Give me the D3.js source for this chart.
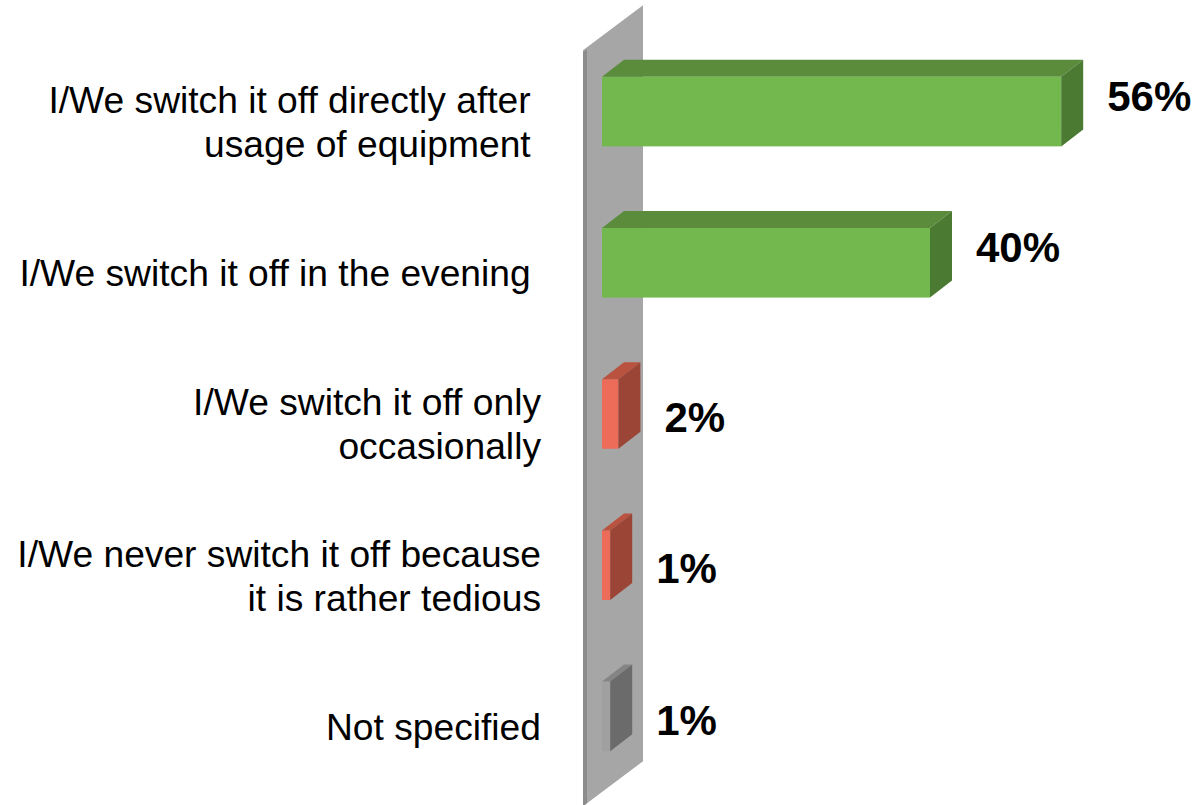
<!DOCTYPE html>
<html>
<head>
<meta charset="utf-8">
<script src="https://cdn.jsdelivr.net/npm/d3@7"></script>
<style>
  html, body { margin: 0; padding: 0; background: #fff; }
  svg { display: block; }
  .cat { font-family: Arial, "Liberation Sans", sans-serif; font-size: 37.2px; fill: #000; white-space: pre; }
  .val { font-family: Arial, "Liberation Sans", sans-serif; font-size: 42px; font-weight: bold; fill: #000; }
</style>
</head>
<body>
<svg id="chart" width="1198" height="805"></svg>
<script>
// answers (trailing spaces are in the original labels)
const categories = [
  'I/We switch it off directly after \nusage of equipment ',
  'I/We switch it off in the evening ',
  'I/We switch it off only\noccasionally',
  'I/We never switch it off because\nit is rather tedious',
  'Not specified'
];
const values = [56, 40, 2, 1, 1];
const groups = ['good', 'good', 'bad', 'bad', 'none'];

const palette = {
  good: { front: '#72b84f', top: '#5a8c3c', side: '#4b7a32' },
  bad: { front: '#ec6c59', top: '#b9523f', side: '#9a4535' },
  none: { front: '#a0a0a0', top: '#858585', side: '#6b6b6b' }
};

const width = 1198, height = 805;
const depth = { dx: 22, dy: -17 };     // bar depth
const wallDepth = 60, wallSlope = 0.75; // side wall perspective
const barInset = 19;                    // bars sit this far into the wall depth

const svg = d3.select('#chart');

const x = d3.scaleLinear().domain([0, 60]).range([602, 602 + 492]);

const y = d3.scaleBand()
  .domain(categories)
  .range([36, 792])
  .paddingInner(0.54)
  .paddingOuter(0.27);

// side wall
const wx0 = x(0) - barInset;
const wy0 = y.range()[0] + barInset * wallSlope;
const wy1 = y.range()[1] + barInset * wallSlope;
const back = wallDepth * wallSlope;
svg.append('polygon')
  .attr('points', [
    [wx0, wy0], [wx0 + wallDepth, wy0 - back],
    [wx0 + wallDepth, wy1 - back], [wx0, wy1]
  ].join(' '))
  .attr('fill', '#a6a6a6');
svg.append('polygon')
  .attr('points', [
    [wx0, wy0 + 2], [wx0 + 4, wy0 - 1],
    [wx0 + 4, wy1 - 3], [wx0, wy1]
  ].join(' '))
  .attr('fill', '#8c8c8c');

const data = categories.map((c, i) => ({ label: c, value: values[i], group: groups[i] }));

const bars = svg.selectAll('g.bar')
  .data(data)
  .enter()
  .append('g')
  .attr('class', 'bar');

bars.append('rect')
  .attr('x', x(0))
  .attr('y', d => y(d.label))
  .attr('width', d => x(d.value) - x(0))
  .attr('height', y.bandwidth())
  .attr('fill', d => palette[d.group].front);

bars.append('polygon')
  .attr('points', d => {
    const x0 = x(0), x1 = x(d.value), y0 = y(d.label);
    return [[x0, y0], [x0 + depth.dx, y0 + depth.dy], [x1 + depth.dx, y0 + depth.dy], [x1, y0]].join(' ');
  })
  .attr('fill', d => palette[d.group].top);

bars.append('polygon')
  .attr('points', d => {
    const x1 = x(d.value), y0 = y(d.label), h = y.bandwidth();
    return [[x1, y0], [x1 + depth.dx, y0 + depth.dy], [x1 + depth.dx, y0 + h + depth.dy], [x1, y0 + h]].join(' ');
  })
  .attr('fill', d => palette[d.group].side);

// value labels
bars.append('text')
  .attr('class', 'val')
  .attr('x', d => x(d.value) + depth.dx + 24)
  .attr('y', d => y(d.label) + y.bandwidth() / 2 + (d.value > 10 ? -16 : 3))
  .attr('dy', '0.36em')
  .text(d => d.value + '%');

// category labels
const lineH = 44;
const labelX = wx0 - 42;
svg.selectAll('text.cat')
  .data(data)
  .enter()
  .append('text')
  .attr('class', 'cat')
  .attr('text-anchor', 'end')
  .each(function (d) {
    const lines = d.label.split('\n');
    const cy = y(d.label) + y.bandwidth() / 2 + 10;
    const first = cy - (lines.length - 1) * lineH / 2;
    d3.select(this).selectAll('tspan')
      .data(lines)
      .enter()
      .append('tspan')
      .attr('x', labelX)
      .attr('y', (l, i) => first + i * lineH)
      .attr('dy', '0.36em')
      .text(l => l);
  });
</script>
</body>
</html>
